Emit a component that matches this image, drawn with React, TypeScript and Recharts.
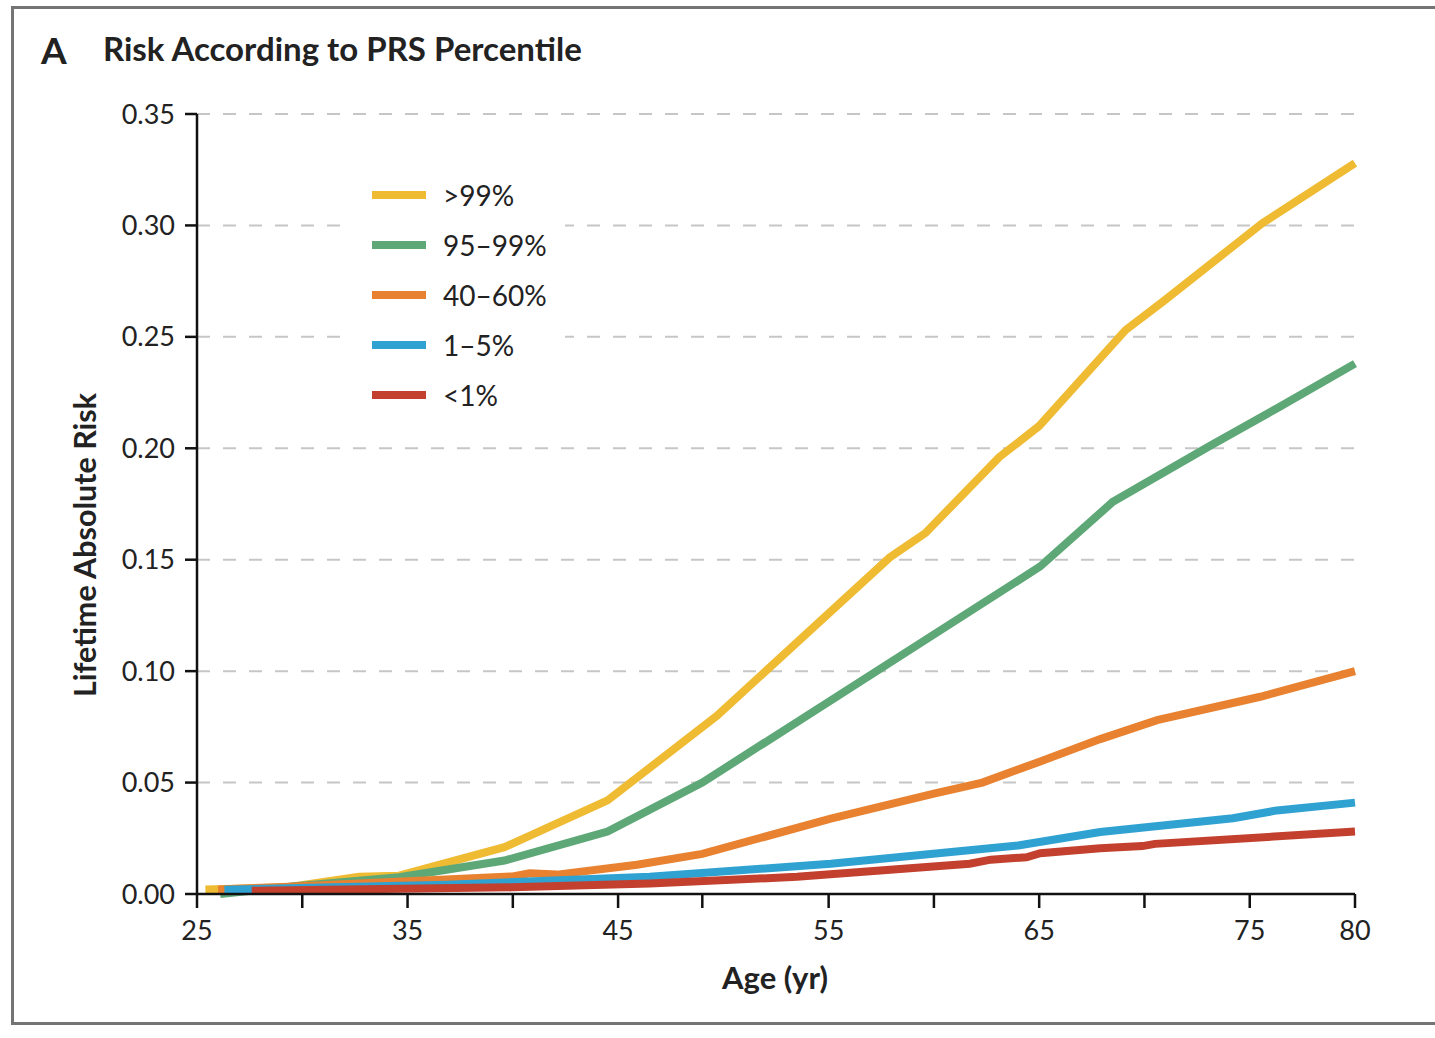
import { CartesianGrid, Line, LineChart, XAxis, YAxis } from "recharts";

// Lifetime absolute risk by age for each PRS percentile band
const topAges = [25.4, 29.3, 32.7, 34.6, 39.6, 44.5, 49.7, 57.9, 59.6, 63.1, 65.0, 69.1, 70.9, 75.6, 80];
const topRisk = [0.002, 0.003, 0.0077, 0.0082, 0.021, 0.042, 0.08, 0.151, 0.162, 0.196, 0.21, 0.253, 0.266, 0.301, 0.328];

const highAges = [26.1, 29.4, 34.6, 39.6, 44.5, 49.0, 65.05, 68.5, 73.1, 76.3, 80];
const highRisk = [0, 0.0033, 0.0075, 0.015, 0.028, 0.05, 0.147, 0.176, 0.201, 0.218, 0.238];

const midAges = [26.0, 29.4, 40.0, 40.8, 42.1, 45.9, 49.0, 55.1, 60.0, 62.3, 65.05, 67.9, 70.6, 75.5, 80];
const midRisk = [0.002, 0.0033, 0.0079, 0.0093, 0.0087, 0.0131, 0.018, 0.0338, 0.045, 0.05, 0.0595, 0.0695, 0.078, 0.0885, 0.1];

const lowAges = [26.3, 36.9, 46.5, 55.1, 64.0, 67.9, 74.2, 76.3, 80];
const lowRisk = [0.0019, 0.0042, 0.0077, 0.0136, 0.0218, 0.0278, 0.034, 0.0375, 0.041];

const bottomAges = [27.6, 40.0, 46.5, 53.5, 61.7, 62.7, 64.4, 65.05, 67.9, 69.9, 70.5, 80];
const bottomRisk = [0.0015, 0.003, 0.0047, 0.0077, 0.0136, 0.0154, 0.0165, 0.0183, 0.0205, 0.0215, 0.0225, 0.028];

const xTicks = [25, 30, 35, 40, 45, 49, 55, 60, 65, 70, 75, 80];
const xLabels = [25, 35, 45, 55, 65, 75, 80];
const yTicks = [0, 0.05, 0.1, 0.15, 0.2, 0.25, 0.3, 0.35];

const toPoints = (ages: number[], risk: number[]) =>
  ages.map((age, i) => ({ age, risk: risk[i] }));

const series = [
  { name: ">99%", color: "#EFBB33", data: toPoints(topAges, topRisk) },
  { name: "95–99%", color: "#5EA877", data: toPoints(highAges, highRisk) },
  { name: "40–60%", color: "#E88230", data: toPoints(midAges, midRisk) },
  { name: "1–5%", color: "#2FA2D2", data: toPoints(lowAges, lowRisk) },
  { name: "<1%", color: "#C3402F", data: toPoints(bottomAges, bottomRisk) }
];

const FONT = "Lato, 'Open Sans', sans-serif";
const INK = "#222";

export default function App() {
  return (
    <div
      style={{
        position: "absolute",
        left: 0,
        top: 0,
        width: 1435,
        height: 1038,
        overflow: "hidden",
        background: "#fff",
        fontFamily: FONT
      }}
    >
      <div
        style={{
          position: "absolute",
          left: 11,
          top: 6,
          width: 1500,
          height: 1013,
          border: "3px solid #747474",
          borderRight: "none"
        }}
      />

      <div style={{ position: "absolute", left: 41, top: 27, fontSize: 37, fontWeight: 700, color: INK }}>
        A
      </div>
      <div style={{ position: "absolute", left: 103, top: 28, fontSize: 33, fontWeight: 700, color: INK }}>
        Risk According to PRS Percentile
      </div>

      <LineChart
        width={1435}
        height={1038}
        margin={{ top: 114, right: 80, bottom: 104, left: 117 }}
        style={{ position: "absolute", left: 0, top: 0 }}
      >
        <CartesianGrid
          vertical={false}
          stroke="#c6c6c6"
          strokeWidth={2}
          strokeDasharray="13 13"
        />
        <XAxis
          type="number"
          dataKey="age"
          domain={[25, 80]}
          ticks={xTicks}
          interval={0}
          height={40}
          tickSize={14}
          tickMargin={13}
          tickFormatter={(v: number) => (xLabels.includes(v) ? String(v) : "")}
          tick={{ fill: INK, fontSize: 27, fontFamily: FONT }}
          axisLine={{ stroke: "#111", strokeWidth: 2.5 }}
          tickLine={{ stroke: "#111", strokeWidth: 2.5 }}
          allowDuplicatedCategory={false}
        />
        <YAxis
          type="number"
          domain={[0, 0.35]}
          ticks={yTicks}
          interval={0}
          width={80}
          tickSize={12}
          tickMargin={10}
          tickFormatter={(v: number) => v.toFixed(2)}
          tick={{ fill: INK, fontSize: 27, fontFamily: FONT }}
          axisLine={{ stroke: "#111", strokeWidth: 2.5 }}
          tickLine={{ stroke: "#111", strokeWidth: 2.5 }}
        />
        {series.map((s) => (
          <Line
            key={s.name}
            data={s.data}
            dataKey="risk"
            name={s.name}
            type="linear"
            stroke={s.color}
            strokeWidth={8}
            dot={false}
            activeDot={false}
            isAnimationActive={false}
          />
        ))}
      </LineChart>

      <div
        style={{
          position: "absolute",
          left: 352,
          top: 168,
          width: 213,
          height: 252,
          background: "#fff"
        }}
      >
        {series.map((s, i) => (
          <div
            key={s.name}
            style={{
              position: "absolute",
              left: 20,
              top: 12 + i * 50,
              height: 30,
              display: "flex",
              alignItems: "center",
              whiteSpace: "nowrap"
            }}
          >
            <span style={{ display: "inline-block", width: 54, height: 8, background: s.color }} />
            <span style={{ marginLeft: 17, fontSize: 28, color: INK }}>{s.name}</span>
          </div>
        ))}
      </div>

      <div
        style={{
          position: "absolute",
          left: 84,
          top: 545,
          transform: "translate(-50%, -50%) rotate(-90deg)",
          fontSize: 30.5,
          fontWeight: 700,
          color: INK,
          whiteSpace: "nowrap"
        }}
      >
        Lifetime Absolute Risk
      </div>
      <div
        style={{
          position: "absolute",
          left: 775,
          top: 977,
          transform: "translate(-50%, -50%)",
          fontSize: 31,
          fontWeight: 700,
          color: INK,
          whiteSpace: "nowrap"
        }}
      >
        Age (yr)
      </div>
    </div>
  );
}
